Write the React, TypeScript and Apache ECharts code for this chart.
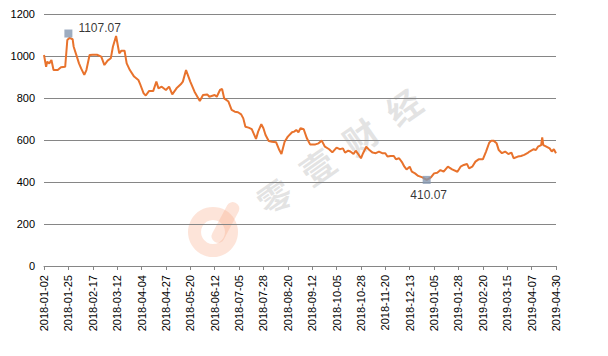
import React, { useEffect, useRef } from "react";
import * as echarts from "echarts";

// ---- data ----
const firstDay = "2018-01-02";
const lastDay = "2019-04-30";

const dates = [
  "2018-01-02", "2018-01-04", "2018-01-05", "2018-01-07", "2018-01-09", "2018-01-11", "2018-01-15", "2018-01-18",
  "2018-01-22", "2018-01-24", "2018-01-26", "2018-01-29", "2018-01-30", "2018-02-02", "2018-02-04", "2018-02-06",
  "2018-02-09", "2018-02-11", "2018-02-14", "2018-02-17", "2018-02-21", "2018-02-25", "2018-02-28", "2018-03-03",
  "2018-03-06", "2018-03-08", "2018-03-11", "2018-03-14", "2018-03-16", "2018-03-19", "2018-03-21", "2018-03-24",
  "2018-03-28", "2018-04-01", "2018-04-03", "2018-04-06", "2018-04-08", "2018-04-11", "2018-04-15", "2018-04-18",
  "2018-04-20", "2018-04-23", "2018-04-27", "2018-04-30", "2018-05-03", "2018-05-07", "2018-05-11", "2018-05-13",
  "2018-05-16", "2018-05-20", "2018-05-24", "2018-05-29", "2018-06-01", "2018-06-05", "2018-06-07", "2018-06-12",
  "2018-06-14", "2018-06-17", "2018-06-19", "2018-06-21", "2018-06-25", "2018-06-28", "2018-07-01", "2018-07-04",
  "2018-07-07", "2018-07-09", "2018-07-11", "2018-07-14", "2018-07-17", "2018-07-21", "2018-07-23", "2018-07-26",
  "2018-07-28", "2018-07-30", "2018-08-02", "2018-08-05", "2018-08-09", "2018-08-12", "2018-08-14", "2018-08-17",
  "2018-08-20", "2018-08-24", "2018-08-26", "2018-08-28", "2018-08-30", "2018-09-01", "2018-09-04", "2018-09-07",
  "2018-09-10", "2018-09-15", "2018-09-18", "2018-09-21", "2018-09-24", "2018-09-28", "2018-10-01", "2018-10-05",
  "2018-10-08", "2018-10-11", "2018-10-13", "2018-10-16", "2018-10-18", "2018-10-21", "2018-10-23", "2018-10-26",
  "2018-10-28", "2018-10-30", "2018-11-02", "2018-11-05", "2018-11-08", "2018-11-11", "2018-11-14", "2018-11-17",
  "2018-11-20", "2018-11-22", "2018-11-25", "2018-11-28", "2018-11-30", "2018-12-03", "2018-12-06", "2018-12-08",
  "2018-12-10", "2018-12-13", "2018-12-15", "2018-12-18", "2018-12-21", "2018-12-25", "2018-12-29", "2019-01-02",
  "2019-01-05", "2019-01-08", "2019-01-11", "2019-01-14", "2019-01-18", "2019-01-22", "2019-01-27", "2019-01-30",
  "2019-02-02", "2019-02-05", "2019-02-07", "2019-02-10", "2019-02-13", "2019-02-16", "2019-02-20", "2019-02-23",
  "2019-02-26", "2019-02-28", "2019-03-02", "2019-03-05", "2019-03-07", "2019-03-10", "2019-03-13", "2019-03-16",
  "2019-03-19", "2019-03-21", "2019-03-25", "2019-03-28", "2019-03-31", "2019-04-03", "2019-04-05", "2019-04-09",
  "2019-04-11", "2019-04-13", "2019-04-16", "2019-04-17", "2019-04-18", "2019-04-20", "2019-04-24", "2019-04-26",
  "2019-04-28", "2019-04-30",
];

const prices = [
  1005, 949, 973, 965, 981, 933, 933, 946,
  949, 1076, 1086, 1080, 1044, 997, 965, 941,
  910, 933, 1005, 1006, 1006, 997, 957, 978,
  989, 1044, 1095, 1013, 1025, 1025, 965, 933,
  902, 886, 862, 822, 812, 833, 833, 878,
  846, 854, 838, 854, 817, 846, 865, 878,
  933, 878, 830, 786, 814, 817, 806, 814,
  806, 838, 843, 798, 783, 743, 735, 732,
  722, 703, 663, 659, 652, 605, 640, 675,
  656, 624, 595, 592, 589, 552, 533, 592,
  616, 637, 640, 648, 637, 656, 651, 608,
  579, 579, 584, 597, 568, 556, 541, 564,
  556, 560, 540, 549, 545, 533, 549, 529,
  513, 537, 568, 552, 540, 537, 545, 537,
  537, 521, 524, 524, 508, 513, 492, 473,
  460, 473, 449, 441, 429, 422, 410.07, 422,
  441, 444, 457, 449, 473, 460, 449, 473,
  481, 486, 465, 473, 497, 508, 508, 545,
  587, 597, 597, 584, 552, 537, 545, 533,
  540, 513, 521, 524, 529, 537, 545, 556,
  552, 568, 576, 613, 576, 571, 560, 545,
  556, 537,
];

const extremeDates = ["2018-01-25", "2018-12-29"];
const extremeValues = [1107.07, 410.07];
const extremeLabelPos = ["right", "bottom"];

const yMin = 0;
const yMax = 1200;
const yInterval = 200;
const labelEvery = 23; // one label every 23 calendar days

const watermarkChars = ["零", "壹", "财", "经"];

function calendar(start: string, end: string): string[] {
  const out: string[] = [];
  const d = new Date(start + "T00:00:00Z");
  const e = new Date(end + "T00:00:00Z");
  while (d.getTime() <= e.getTime()) {
    out.push(d.toISOString().slice(0, 10));
    d.setUTCDate(d.getUTCDate() + 1);
  }
  return out;
}

export default function App() {
  const ref = useRef<HTMLDivElement>(null);

  useEffect(() => {
    if (!ref.current) return;
    const chart = echarts.init(ref.current, undefined, { renderer: "svg" });
    const categories = calendar(firstDay, lastDay);
    const font = "'Liberation Sans', Arial, sans-serif";
    const logoFill = "rgba(250,165,130,0.3)";

    const wmStart = [274, 196];
    const wmStep = [43, -30];
    const watermark = watermarkChars.map((ch, i) => ({
      type: "text",
      x: wmStart[0] + wmStep[0] * i,
      y: wmStart[1] + wmStep[1] * i,
      rotation: (35 * Math.PI) / 180,
      z: -10,
      silent: true,
      style: {
        text: ch,
        fontSize: 34,
        fontFamily: "'Noto Sans CJK SC', sans-serif",
        fontWeight: "bold",
        fill: "rgba(175,175,175,0.35)",
        align: "center",
        verticalAlign: "middle",
      },
    }));

    chart.setOption({
      animation: false,
      backgroundColor: "#ffffff",
      grid: { left: 44, right: 52, top: 14, bottom: 90, containLabel: false },
      graphic: [
        {
          type: "ring",
          z: -10,
          silent: true,
          shape: { cx: 213, cy: 232, r: 25, r0: 12 },
          style: { fill: logoFill },
        },
        {
          type: "rect",
          z: -10,
          silent: true,
          x: 230,
          y: 200,
          rotation: (-28 * Math.PI) / 180,
          shape: { x: 0, y: 0, width: 13, height: 44, r: 6 },
          style: { fill: logoFill },
        },
        ...watermark,
      ],
      xAxis: {
        type: "category",
        data: categories,
        boundaryGap: false,
        axisLine: { show: true, lineStyle: { color: "#868686", width: 1 } },
        axisTick: {
          show: true,
          interval: labelEvery - 1,
          length: 4,
          lineStyle: { color: "#868686" },
        },
        axisLabel: {
          interval: labelEvery - 1,
          rotate: 90,
          margin: 9,
          fontSize: 11,
          fontFamily: font,
          color: "#000000",
        },
        splitLine: { show: false },
      },
      yAxis: {
        type: "value",
        min: yMin,
        max: yMax,
        interval: yInterval,
        axisLine: { show: false },
        axisTick: { show: false },
        axisLabel: {
          fontSize: 11,
          fontFamily: font,
          color: "#000000",
          margin: 9,
          formatter: (v: number) => String(v),
        },
        splitLine: { show: true, lineStyle: { color: "#868686", width: 1 } },
      },
      series: [
        {
          type: "line",
          data: dates.map((d, i) => [d, prices[i]]),
          showSymbol: false,
          symbol: "none",
          lineStyle: { color: "#E8722C", width: 2 },
          itemStyle: { color: "#E8722C" },
          z: 3,
        },
        {
          type: "scatter",
          symbol: "rect",
          symbolSize: 8,
          z: 4,
          itemStyle: { color: "#8497B0" },
          data: extremeDates.map((d, i) => ({
            value: [d, extremeValues[i]],
            label: {
              show: true,
              position: extremeLabelPos[i],
              distance: i === 0 ? 6 : 5,
              offset: i === 0 ? [0, -6] : [2, 0],
              formatter: extremeValues[i].toFixed(2),
              fontSize: 12,
              fontFamily: font,
              color: "#000000",
            },
          })),
        },
      ],
    });

    return () => chart.dispose();
  }, []);

  return (
    <div
      ref={ref}
      style={{ position: "fixed", left: 0, top: 0, width: 608, height: 356 }}
    />
  );
}
